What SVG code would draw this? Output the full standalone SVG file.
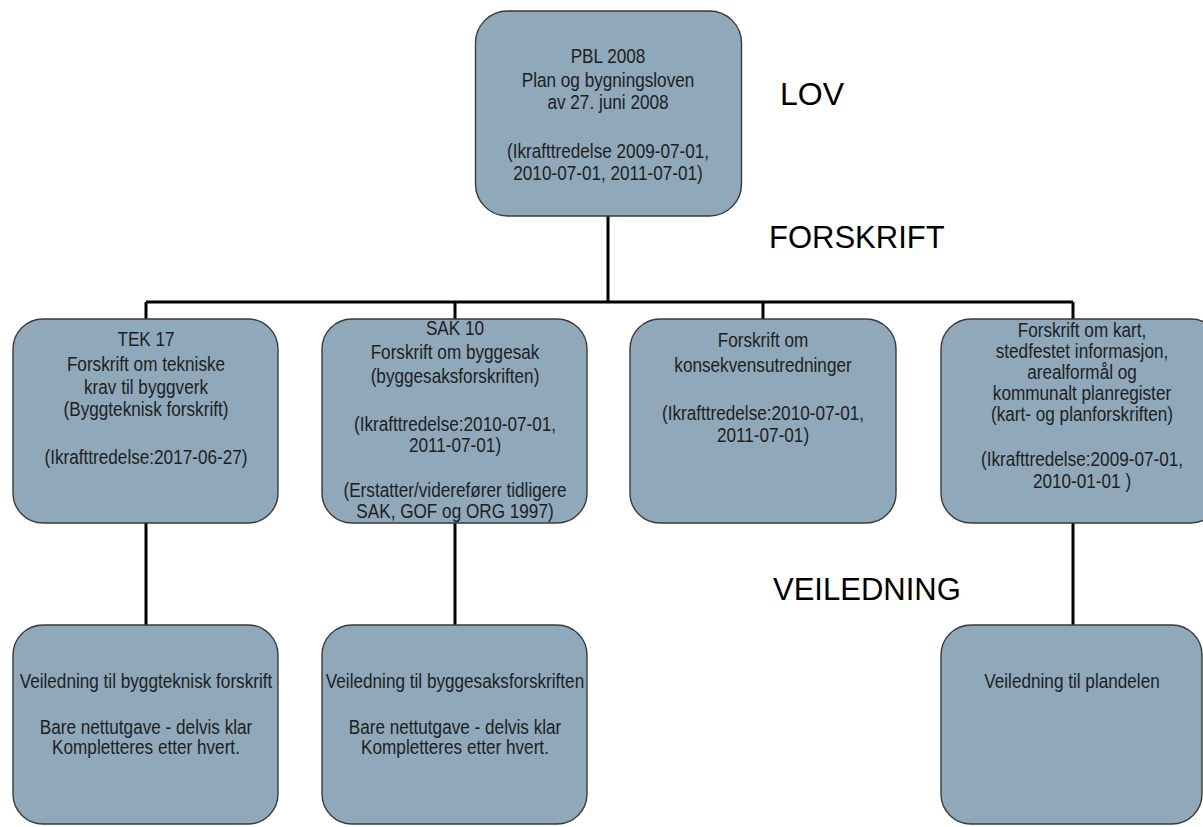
<svg xmlns="http://www.w3.org/2000/svg" width="1203" height="827" viewBox="0 0 1203 827">
  <style>
    .box { fill: #8fa9ba; stroke: #3a3a3a; stroke-width: 1.4; }
    .t { font-family: "Liberation Sans", Arial, sans-serif; font-size: 19.5px; fill: #1e1e1e; text-anchor: middle; }
    .lvl { font-family: "Liberation Sans", Arial, sans-serif; font-size: 31px; fill: #000; }
    .wire { fill: none; stroke: #000; stroke-width: 3; }
  </style>
  <rect width="1203" height="827" fill="#fff"/>

  <!-- connectors -->
  <g id="connectors">
    <path class="wire" d="M608 216 V302 M146 302 H1073 M146 302 V319 M455 302 V319 M763 302 V319 M1073 302 V319"/>
    <path class="wire" d="M146 523 V625 M455 523 V625 M1073 523 V625"/>
  </g>

  <!-- level labels -->
  <g id="labels">
    <text class="lvl" x="780" y="105" style="font-size:32px">LOV</text>
    <text class="lvl" x="769" y="248">FORSKRIFT</text>
    <text class="lvl" x="773" y="600">VEILEDNING</text>
  </g>

  <!-- node text is set in a narrowed face: each label block is centred on its node and squeezed horizontally -->
  <g id="pbl">
    <rect class="box" x="475.5" y="11" width="266" height="205" rx="32"/>
    <g transform="translate(608 0) scale(0.88 1)">
      <text class="t" x="0" y="63">PBL 2008</text>
      <text class="t" x="0" y="87">Plan og bygningsloven</text>
      <text class="t" x="0" y="109">av 27. juni 2008</text>
      <text class="t" x="0" y="158">(Ikrafttredelse 2009-07-01,</text>
      <text class="t" x="0" y="180">2010-07-01, 2011-07-01)</text>
    </g>
  </g>

  <g id="tek17">
    <rect class="box" x="13" y="319" width="265" height="204" rx="30"/>
    <g transform="translate(146 0) scale(0.88 1)">
      <text class="t" x="0" y="346">TEK 17</text>
      <text class="t" x="0" y="371">Forskrift om tekniske</text>
      <text class="t" x="0" y="394">krav til byggverk</text>
      <text class="t" x="0" y="416">(Byggteknisk forskrift)</text>
      <text class="t" x="0" y="464">(Ikrafttredelse:2017-06-27)</text>
    </g>
  </g>

  <g id="sak10">
    <rect class="box" x="322" y="319" width="265" height="204" rx="30"/>
    <g transform="translate(455 0) scale(0.88 1)">
      <text class="t" x="0" y="335">SAK 10</text>
      <text class="t" x="0" y="359">Forskrift om byggesak</text>
      <text class="t" x="0" y="383">(byggesaksforskriften)</text>
      <text class="t" x="0" y="431">(Ikrafttredelse:2010-07-01,</text>
      <text class="t" x="0" y="452">2011-07-01)</text>
      <text class="t" x="0" y="497">(Erstatter/viderefører tidligere</text>
      <text class="t" x="0" y="518">SAK, GOF og ORG 1997)</text>
    </g>
  </g>

  <g id="konsekvens">
    <rect class="box" x="630" y="319" width="266" height="204" rx="30"/>
    <g transform="translate(763 0) scale(0.88 1)">
      <text class="t" x="0" y="347">Forskrift om</text>
      <text class="t" x="0" y="372">konsekvensutredninger</text>
      <text class="t" x="0" y="420">(Ikrafttredelse:2010-07-01,</text>
      <text class="t" x="0" y="442">2011-07-01)</text>
    </g>
  </g>

  <g id="kart">
    <rect class="box" x="941" y="319" width="280" height="204" rx="30"/>
    <g transform="translate(1082 0) scale(0.88 1)">
      <text class="t" x="0" y="337">Forskrift om kart,</text>
      <text class="t" x="0" y="358">stedfestet informasjon,</text>
      <text class="t" x="0" y="379">arealformål og</text>
      <text class="t" x="0" y="400">kommunalt planregister</text>
      <text class="t" x="0" y="421">(kart- og planforskriften)</text>
      <text class="t" x="0" y="466">(Ikrafttredelse:2009-07-01,</text>
      <text class="t" x="0" y="488">2010-01-01 )</text>
    </g>
  </g>

  <g id="veil-tek">
    <rect class="box" x="13" y="625" width="265" height="199" rx="30"/>
    <g transform="translate(146 0) scale(0.88 1)">
      <text class="t" x="0" y="688">Veiledning til byggteknisk forskrift</text>
      <text class="t" x="0" y="734">Bare nettutgave - delvis klar</text>
      <text class="t" x="0" y="754">Kompletteres etter hvert.</text>
    </g>
  </g>

  <g id="veil-sak">
    <rect class="box" x="322" y="625" width="265" height="199" rx="30"/>
    <g transform="translate(455 0) scale(0.88 1)">
      <text class="t" x="0" y="688">Veiledning til byggesaksforskriften</text>
      <text class="t" x="0" y="734">Bare nettutgave - delvis klar</text>
      <text class="t" x="0" y="754">Kompletteres etter hvert.</text>
    </g>
  </g>

  <g id="veil-plan">
    <rect class="box" x="941" y="625" width="261" height="199" rx="30"/>
    <g transform="translate(1072 0) scale(0.88 1)">
      <text class="t" x="0" y="688">Veiledning til plandelen</text>
    </g>
  </g>
</svg>
